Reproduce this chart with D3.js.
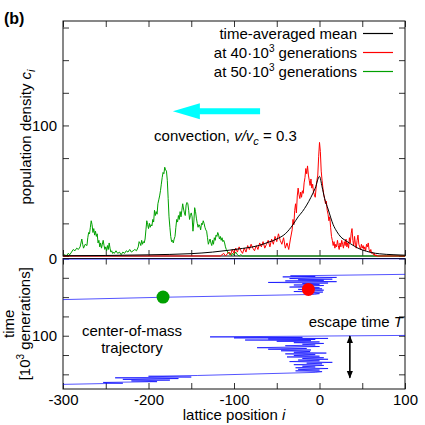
<!DOCTYPE html>
<html>
<head>
<meta charset="utf-8">
<script src="https://cdn.jsdelivr.net/npm/d3@7"></script>
<style>
	body { margin: 0; background: #fff; }
	svg text { font-family: "Liberation Sans", Arial, Helvetica, sans-serif; fill: #000; }
</style>
</head>
<body>
<div id="chart"></div>
<script>
// ---- data ----
// [lattice position i, density]
var meanCurve = [[-300,0.2],[-250,0.4],[-200,0.9],[-150,1.8],[-125,3],[-105,4.5],[-90,5.8],[-70,8.2],[-60,10.5],[-50,13],[-40,17],[-31,24],[-25,30],[-20,34],[-15,39],[-10,45],[-5,52],[0,61],[3,53],[6,44],[10,36],[16,24],[20,19],[25,14.5],[30,12],[36,9.5],[45,6],[55,3.6],[61,2.6],[70,1.7],[86,1],[100,0.6]];

var red40k = [[-300,0],[-116,0],[-112,2],[-110,0],[-106,3],[-104,1],[-102,5],[-100,2],[-98,6],[-96,3],[-94,7],[-92,4],[-90,2],[-88,6],[-86,3],[-84,8],[-82,5],[-80,9],[-78,6],[-76,4],[-74,8],[-72,5],[-70,10],[-68,7],[-66,11],[-64,6],[-62,9],[-60,12],[-58,7],[-56,13],[-54,9],[-52,15],[-50,11],[-48,17],[-46,12],[-44,9],[-42,14],[-40,6],[-38,10],[-36,5],[-34,13],[-32,20],[-31,28],[-30,24],[-29,35],[-28,40],[-27,33],[-26,46],[-25,52],[-24,47],[-23,44],[-22,49],[-21,45],[-20,50],[-19,48],[-18,56],[-17,60],[-16,67],[-15,63],[-14,69],[-13,62],[-12,58],[-11,54],[-10,59],[-9,52],[-8,55],[-7,49],[-6,47],[-5,45],[-4,52],[-3,58],[-2,62],[-1,76],[0,87],[1,80],[2,65],[3,58],[4,52],[5,47],[6,44],[7,40],[8,42],[9,35],[10,32],[11,27],[12,30],[13,22],[14,15],[15,12],[16,8],[17,11],[18,6],[19,9],[20,7],[21,12],[22,8],[23,5],[24,10],[25,7],[26,12],[27,9],[28,6],[29,11],[30,8],[31,13],[32,7],[33,10],[34,6],[35,14],[36,10],[37,17],[38,21],[39,12],[40,8],[41,15],[42,9],[43,6],[44,12],[45,16],[46,9],[47,7],[48,5],[49,9],[50,6],[51,8],[52,5],[53,7],[54,4],[55,9],[56,7],[57,10],[58,5],[59,3],[60,5],[61,2],[62,3],[63,1],[64,2],[65,0],[66,1],[67,0],[100,0]];

var green50k = [[-300,0],[-298,1],[-296,0],[-294,2],[-292,1],[-290,3],[-288,5],[-286,4],[-284,6],[-282,5],[-280,7],[-278,13],[-277,9],[-276,6],[-274,9],[-272,8],[-271,14],[-270,18],[-269,17],[-268,22],[-267,27],[-266,24],[-265,18],[-264,21],[-263,16],[-262,19],[-261,15],[-260,17],[-259,10],[-258,12],[-257,7],[-256,10],[-255,6],[-254,9],[-253,12],[-252,8],[-251,5],[-250,7],[-249,4],[-248,8],[-247,5],[-246,10],[-245,6],[-244,3],[-243,4],[-242,2],[-241,3],[-240,2],[-238,4],[-236,2],[-234,3],[-232,1],[-230,3],[-228,2],[-226,4],[-224,3],[-222,5],[-220,3],[-218,4],[-216,5],[-214,4],[-212,7],[-211,11],[-210,10],[-209,8],[-208,12],[-207,9],[-206,11],[-205,10],[-204,13],[-203,20],[-202,27],[-201,24],[-200,21],[-199,25],[-198,22],[-197,24],[-196,23],[-195,28],[-194,26],[-193,35],[-192,31],[-191,34],[-190,32],[-189,40],[-188,43],[-187,46],[-186,50],[-185,55],[-184,60],[-183,64],[-182,63],[-181,68],[-180,66],[-179,65],[-178,58],[-177,44],[-176,30],[-175,22],[-174,15],[-173,11],[-172,12],[-171,10],[-170,13],[-169,15],[-168,22],[-167,28],[-166,26],[-165,31],[-164,28],[-163,34],[-162,30],[-161,35],[-160,40],[-159,36],[-158,33],[-157,31],[-156,39],[-155,41],[-154,40],[-153,35],[-152,28],[-151,31],[-150,33],[-149,30],[-148,19],[-147,26],[-146,37],[-145,34],[-144,29],[-143,25],[-142,22],[-141,24],[-140,23],[-139,20],[-138,25],[-137,24],[-136,27],[-135,25],[-134,22],[-133,20],[-132,19],[-131,14],[-130,9],[-129,11],[-128,13],[-127,10],[-126,8],[-125,12],[-124,9],[-123,14],[-122,12],[-121,16],[-120,15],[-119,18],[-118,16],[-117,13],[-116,15],[-115,12],[-114,14],[-113,11],[-112,12],[-111,10],[-110,7],[-109,5],[-108,4],[-107,2],[-106,3],[-105,1],[-104,2],[-103,0],[-102,2],[-100,1],[-98,3],[-96,1],[-94,0],[-92,1],[-90,0],[100,0]];

// center-of-mass trajectory, [time in 10^3 generations, lattice position i]
var trajTop = [[0.4,100],[0.9,-300]];
var trajFirst = [[20.5,100],[22.5,-34],[23.2,-5],[23.8,-43],[24.5,20],[25.2,-10],[26,-35],[26.8,15],[27.5,-25],[28.3,5],[29,-40],[30,20],[31,-60],[31.8,10],[32.5,-20],[33.5,0],[34.3,-30],[35,5],[36,-15],[37,-35],[37.8,0],[38.5,-20],[39.3,3],[40,-25],[41,5],[42,-10],[42.8,-30],[43.5,4],[44.5,-15],[45.5,0],[46.5,-6],[50.2,-183],[53.2,-300]];
var trajSecond = [[99.6,100],[101.5,-128],[102.2,-20],[102.8,-100],[103.5,10],[104.2,-60],[104.9,-5],[105.6,-87],[106.4,-10],[107.2,-50],[108,0],[109,-30],[110,5],[111,-20],[112,-5],[113,-40],[114,0],[115.5,-73],[116.5,-15],[117.5,-60],[118.5,-10],[119.5,-45],[120.5,-11],[121.5,-30],[122.5,8],[123.5,-40],[124.5,-5],[125.5,-30],[126.5,0],[127.5,-38],[128.5,5],[129.5,-20],[130.5,10],[131.5,-25],[132.5,0],[133.5,-35],[134.5,15],[135.5,-15],[136.5,3],[137.5,-30],[138.5,5],[139.5,-20],[140.5,-5],[141.5,-28],[142.5,10],[143.5,-25],[144.5,0],[145.5,-28],[146.5,3],[147.5,-5],[151.5,-143],[152.5,-200],[153.5,-150],[154.5,-239],[155.5,-165],[156.5,-230],[157.5,-175],[158.5,-220],[159.5,-190],[160.5,-253],[161.5,-230],[163,-300]];

var snapshotTimes = [40, 50];
var snapshotPos = [-13, -183];
var snapshotColors = ["#ff0000", "#00a000"];

var xTicks = [-300,-250,-200,-150,-100,-50,0,50,100];
var xTickLabels = [-300,-200,-100,0,100];
var yTicks = [0,25,50,75,100,125,150,175];
var yTopLabels = [100];      // the shared "0" is written once, by the lower panel
var yBotLabels = [0,100];

var legendNames = ["time-averaged mean", "at 40\u00b710", "at 50\u00b710"];
var legendColors = ["#000000", "#ff0000", "#00a000"];

// ---- layout ----
var w = 425, h = 425;
var left = 63, right = 405;
var topY0 = 21, topY1 = 256;
var botY0 = 258.5, botY1 = 389;

var x = d3.scaleLinear().domain([-300, 100]).range([left, right]);
var yTop = d3.scaleLinear().domain([0, 180]).range([topY1, topY0]);
var yBot = d3.scaleLinear().domain([0, 169]).range([botY0, botY1]);

var svg = d3.select("#chart").append("svg")
	.attr("width", w)
	.attr("height", h);

var defs = svg.append("defs");
defs.append("clipPath").attr("id", "clipTop")
	.append("rect").attr("x", left).attr("y", topY0).attr("width", right - left).attr("height", topY1 - topY0 + 1);
defs.append("clipPath").attr("id", "clipBot")
	.append("rect").attr("x", left).attr("y", botY0).attr("width", right - left).attr("height", botY1 - botY0);

function drawFrame(y, y0, y1, labelBottom, yScaleTicks, yLabels) {
	// bottom ticks
	var gb = svg.append("g")
		.attr("transform", "translate(0," + y1 + ")")
		.call(d3.axisBottom(x).tickValues(xTicks).tickSizeInner(-6).tickSizeOuter(0).tickPadding(5)
			.tickFormat(function(d) { return labelBottom && xTickLabels.indexOf(d) >= 0 ? String(d) : ""; }));
	// top ticks
	var gt = svg.append("g")
		.attr("transform", "translate(0," + y0 + ")")
		.call(d3.axisTop(x).tickValues(xTicks).tickSizeInner(-6).tickSizeOuter(0).tickFormat(""));
	// left ticks
	var gl = svg.append("g")
		.attr("transform", "translate(" + left + ",0)")
		.call(d3.axisLeft(y).tickValues(yScaleTicks).tickSizeInner(-6).tickSizeOuter(0).tickPadding(6)
			.tickFormat(function(d) { return yLabels.indexOf(d) >= 0 ? String(d) : ""; }));
	// right ticks
	var gr = svg.append("g")
		.attr("transform", "translate(" + right + ",0)")
		.call(d3.axisRight(y).tickValues(yScaleTicks).tickSizeInner(-6).tickSizeOuter(0).tickFormat(""));

	[gb, gt, gl, gr].forEach(function(g) {
		g.select(".domain").remove();
		g.selectAll(".tick line").attr("stroke", "#333");
		g.selectAll(".tick text").attr("font-size", 15).attr("font-family", "Liberation Sans, Arial, sans-serif").attr("fill", "#000");
		g.selectAll(".tick text").filter(function() { return this.textContent === ""; }).remove();
	});

	svg.append("rect")
		.attr("x", left).attr("y", y0)
		.attr("width", right - left).attr("height", y1 - y0)
		.attr("fill", "none").attr("stroke", "#111").attr("stroke-width", 1);
}

// ---- top panel ----
drawFrame(yTop, topY0, topY1, false, yTicks, yTopLabels);

var line = d3.line()
	.x(function(d) { return x(d[0]); })
	.y(function(d) { return yTop(d[1]); });

var gTop = svg.append("g").attr("clip-path", "url(#clipTop)");

gTop.append("path").datum(green50k)
	.attr("fill", "none").attr("stroke", "#00a000").attr("stroke-width", 1)
	.attr("d", line);
gTop.append("path").datum(red40k)
	.attr("fill", "none").attr("stroke", "#ff0000").attr("stroke-width", 1)
	.attr("d", line);
gTop.append("path").datum(meanCurve)
	.attr("fill", "none").attr("stroke", "#000").attr("stroke-width", 1)
	.attr("d", line.curve(d3.curveMonotoneX));

// legend
var legend = svg.append("g");
legendNames.forEach(function(name, k) {
	var ly = 33.5 + k * 19;
	var t = legend.append("text")
		.attr("x", 357).attr("y", ly + 5)
		.attr("text-anchor", "end")
		.attr("font-size", 15);
	t.append("tspan").text(name);
	if (k > 0) {
		t.append("tspan").attr("font-size", 10).attr("dy", -6).text("3");
		t.append("tspan").attr("dy", 6).text(" generations");
	}
	legend.append("line")
		.attr("x1", 363).attr("x2", 393)
		.attr("y1", ly).attr("y2", ly)
		.attr("stroke", legendColors[k]).attr("stroke-width", 1.2);
});

// convection arrow (cyan)
var ay = yTop(110.8);
var ax1 = x(-69.5), ax2 = x(-171.5);
svg.append("path")
	.attr("d", "M" + ax1 + "," + (ay - 3) + "L" + (ax2 + 27) + "," + (ay - 3) +
		"L" + (ax2 + 27) + "," + (ay - 8) + "L" + ax2 + "," + ay +
		"L" + (ax2 + 27) + "," + (ay + 8) + "L" + (ax2 + 27) + "," + (ay + 3) +
		"L" + ax1 + "," + (ay + 3) + "Z")
	.attr("fill", "#00ffff");

var conv = svg.append("text")
	.attr("x", x(-110)).attr("y", 141)
	.attr("text-anchor", "middle")
	.attr("font-size", 15);
conv.append("tspan").text("convection, ");
conv.append("tspan").attr("font-style", "italic").text("v/v");
conv.append("tspan").attr("font-style", "italic").attr("font-size", 11).attr("dy", 4).text("c");
conv.append("tspan").attr("dy", -4).text(" = 0.3");

// ---- bottom panel ----
drawFrame(yBot, botY0, botY1, true, [0,25,50,75,100,125,150], yBotLabels);

var traj = d3.line()
	.x(function(d) { return x(d[1]); })
	.y(function(d) { return yBot(d[0]); });

var gBot = svg.append("g").attr("clip-path", "url(#clipBot)");
[trajTop, trajFirst, trajSecond].forEach(function(seg) {
	gBot.append("path").datum(seg)
		.attr("fill", "none").attr("stroke", "#0000ff").attr("stroke-width", 0.8)
		.attr("stroke-opacity", 0.85)
		.attr("d", traj);
});

svg.selectAll("circle.snap")
	.data(snapshotTimes)
	.enter()
	.append("circle")
	.attr("class", "snap")
	.attr("cx", function(d, k) { return x(snapshotPos[k]); })
	.attr("cy", function(d) { return yBot(d); })
	.attr("r", 6.5)
	.attr("fill", function(d, k) { return snapshotColors[k]; });

// escape time double arrow
defs.append("marker").attr("id", "ah")
	.attr("viewBox", "0 0 10 10").attr("refX", 9).attr("refY", 5)
	.attr("markerWidth", 5).attr("markerHeight", 5)
	.attr("orient", "auto-start-reverse")
	.append("path").attr("d", "M0,1L10,5L0,9Z").attr("fill", "#000");
svg.append("line")
	.attr("x1", x(35.5)).attr("x2", x(35.5))
	.attr("y1", yBot(100.5)).attr("y2", yBot(154.5))
	.attr("stroke", "#000").attr("stroke-width", 1.6)
	.attr("marker-start", "url(#ah)").attr("marker-end", "url(#ah)");

var esc = svg.append("text")
	.attr("x", 403).attr("y", 327)
	.attr("text-anchor", "end")
	.attr("font-size", 15);
esc.append("tspan").text("escape time ");
esc.append("tspan").attr("font-style", "italic").text("T");

svg.append("text")
	.attr("x", 132).attr("y", 336)
	.attr("text-anchor", "middle").attr("font-size", 15)
	.text("center-of-mass");
svg.append("text")
	.attr("x", 132).attr("y", 353)
	.attr("text-anchor", "middle").attr("font-size", 15)
	.text("trajectory");

// ---- axis titles ----
var xl = svg.append("text")
	.attr("x", (left + right) / 2).attr("y", 420)
	.attr("text-anchor", "middle").attr("font-size", 15);
xl.append("tspan").text("lattice position ");
xl.append("tspan").attr("font-style", "italic").text("i");

var yl = svg.append("text")
	.attr("transform", "translate(31,137) rotate(-90)")
	.attr("text-anchor", "middle").attr("font-size", 15);
yl.append("tspan").text("population density ");
yl.append("tspan").attr("font-style", "italic").text("c");
yl.append("tspan").attr("font-style", "italic").attr("font-size", 11).attr("dy", 4).text("i");
// the label spans about 143 px in the reference; shrink if the font runs wider
var ylLen = yl.node().getComputedTextLength();
if (ylLen > 143) yl.attr("font-size", 15 * 143 / ylLen);

svg.append("text")
	.attr("transform", "translate(14," + ((botY0 + botY1) / 2) + ") rotate(-90)")
	.attr("text-anchor", "middle").attr("font-size", 15)
	.text("time");
var yl2 = svg.append("text")
	.attr("transform", "translate(30," + ((botY0 + botY1) / 2) + ") rotate(-90)")
	.attr("text-anchor", "middle").attr("font-size", 15);
yl2.append("tspan").text("[10");
yl2.append("tspan").attr("font-size", 10).attr("dy", -6).text("3");
yl2.append("tspan").attr("dy", 6).text(" generations]");

svg.append("text")
	.attr("x", 4).attr("y", 24)
	.attr("font-size", 16).attr("font-weight", "bold")
	.text("(b)");
</script>
</body>
</html>
